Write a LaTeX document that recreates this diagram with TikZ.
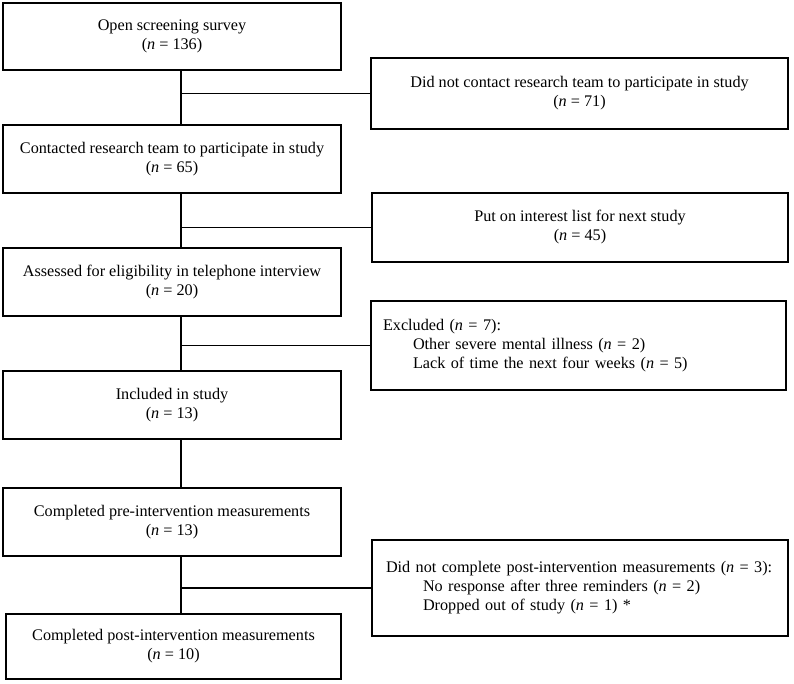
\documentclass[tikz,border=0pt]{standalone}
\usepackage{fontspec}
\setmainfont{Liberation Serif}
\begin{document}
\begin{tikzpicture}[x=1pt,y=-1pt,
  box/.style={draw,line width=1.3pt,rectangle,inner sep=0pt,font=\fontsize{16.2}{19}\selectfont,align=center},
  conn/.style={line width=1.3pt}]
\useasboundingbox (0,0) rectangle (794,683);
\node[box,minimum width=338pt,minimum height=67pt] (b1) at (172,36.5) {Open screening survey\\(\textit{n} = 136)};
\node[box,minimum width=338pt,minimum height=68pt] (b2) at (172,159) {Contacted research team to participate in study\\(\textit{n} = 65)};
\node[box,minimum width=338pt,minimum height=68pt] (b3) at (172,282) {Assessed for eligibility in telephone interview\\(\textit{n} = 20)};
\node[box,minimum width=338pt,minimum height=68pt] (b4) at (172,405) {Included in study\\(\textit{n} = 13)};
\node[box,minimum width=338pt,minimum height=68pt] (b5) at (172,522) {Completed pre-intervention measurements\\(\textit{n} = 13)};
\node[box,minimum width=335pt,minimum height=65pt] (b6) at (173.5,646.5) {Completed post-intervention measurements\\(\textit{n} = 10)};
\node[box,minimum width=417pt,minimum height=71pt] (r1) at (579.5,93.5) {Did not contact research team to participate in study\\(\textit{n} = 71)};
\node[box,minimum width=416pt,minimum height=69pt] (r2) at (580,227.5) {Put on interest list for next study\\(\textit{n} = 45)};
\node[box,minimum width=415pt,minimum height=89pt,text width=391pt,inner xsep=12pt,align=left] (r3) at (578.5,345.5) {Excluded (\textit{n} = 7):\\\hspace*{30pt}Other severe mental illness (\textit{n} = 2)\\\hspace*{30pt}Lack of time the next four weeks (\textit{n} = 5)};
\node[box,minimum width=416pt,minimum height=96pt,text width=388pt,inner xsep=14pt,align=left] (r4) at (580,588) {Did not complete post-intervention measurements (\textit{n} = 3):\\\hspace*{37pt}No response after three reminders (\textit{n} = 2)\\\hspace*{37pt}Dropped out of study (\textit{n} = 1) *};
\coordinate (sp) at (181,0);
\draw[conn] (b1.south -| sp) -- (b2.north -| sp);
\draw[conn] (b2.south -| sp) -- (b3.north -| sp);
\draw[conn] (b3.south -| sp) -- (b4.north -| sp);
\draw[conn] (b4.south -| sp) -- (b5.north -| sp);
\draw[conn] (b5.south -| sp) -- (b6.north -| sp);
\draw[conn] (r1.west -| sp) -- (r1.west);
\draw[conn] (r2.west -| sp) -- (r2.west);
\draw[conn] (r3.west -| sp) -- (r3.west);
\draw[conn] (r4.west -| sp) -- (r4.west);
\end{tikzpicture}
\end{document}
